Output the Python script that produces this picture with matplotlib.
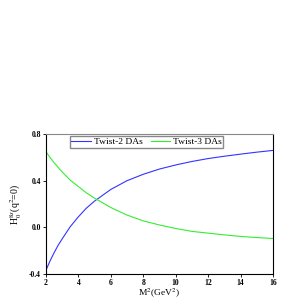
import numpy as np
import matplotlib
matplotlib.use("Agg")
import matplotlib.pyplot as plt

plt.rcParams['font.family'] = ['Liberation Serif', 'DejaVu Serif']
plt.rcParams['mathtext.fontset'] = 'stix'

# values
m2 = [2, 2.25, 2.5, 2.75, 3, 3.5, 4, 4.5, 5, 6, 7, 8, 9, 10, 11, 12, 13, 14, 15, 16]
twist2 = [-0.37, -0.29, -0.22, -0.155, -0.10, 0.005, 0.09, 0.165, 0.225, 0.325, 0.40, 0.455, 0.50, 0.535, 0.565, 0.59, 0.61, 0.628, 0.645, 0.66]
twist3 = [0.65, 0.60, 0.555, 0.515, 0.475, 0.405, 0.35, 0.295, 0.25, 0.17, 0.105, 0.055, 0.02, -0.01, -0.035, -0.05, -0.065, -0.078, -0.088, -0.096]

fig = plt.figure(figsize=(3, 3), dpi=100)
ax = fig.add_axes([0.153, 0.087, 0.757, 0.466])
ax.plot(m2, twist2, color='#3333ff', lw=0.8, label='Twist-2 DAs')
ax.plot(m2, twist3, color='#33ee33', lw=0.8, label='Twist-3 DAs')

ax.set_xlim(2, 16)
ax.set_ylim(-0.4, 0.8)
ax.set_xticks([2, 4, 6, 8, 10, 12, 14, 16])
ax.set_yticks([-0.4, 0.0, 0.4, 0.8])
ax.set_yticklabels(['-0.4', '0.0', '0.4', '0.8'])
ax.tick_params(labelsize=5.5, length=2, width=0.6, pad=1.5, direction='out', top=False, right=False)
for lab in ax.get_xticklabels() + ax.get_yticklabels():
    lab.set_fontweight('bold')
for s in ax.spines.values():
    s.set_linewidth(0.8)
ax.spines['top'].set_color('#888888')

ax.set_xlabel(r'M$^2$(GeV$^2$)', fontsize=6.8, labelpad=0)
ax.set_ylabel(r'H$_0^{8s}$(q$^2$=0)', fontsize=7, labelpad=4)

ax.legend(ncol=2, fontsize=6.8, loc='upper center', bbox_to_anchor=(0.443, 0.99),
          fancybox=False, edgecolor='#888888', framealpha=1, handlelength=2.1,
          borderpad=0.15, columnspacing=0.85, handletextpad=0.3, borderaxespad=0.1)

fig.savefig('out.png', dpi=100)
